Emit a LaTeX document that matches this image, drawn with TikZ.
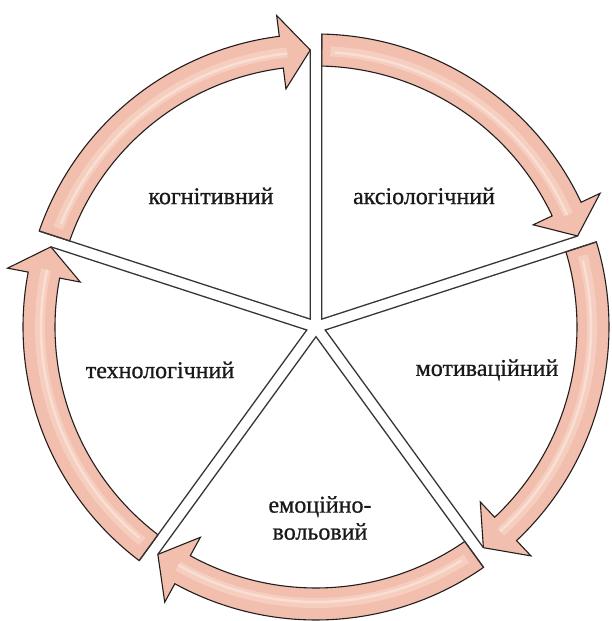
\documentclass[tikz,border=0pt]{standalone}
\usepackage{fontspec}
\setmainfont{Liberation Serif}
\newfontfamily\lblfont{Liberation Serif}[FakeBold=0.8]
\definecolor{ringfill}{RGB}{242,190,173}
\definecolor{ringlight}{RGB}{246,206,192}
\definecolor{ringhi}{RGB}{249,222,212}
\definecolor{edge}{RGB}{35,30,30}
\begin{document}
\begin{tikzpicture}[x=1pt,y=1pt,
  ringarrow/.style={fill=ringfill, draw=edge, line width=1.1pt, line join=miter},
  spokeline/.style={draw=edge!90, line width=1.3pt, line join=miter},
  lbl/.style={font=\lblfont\fontsize{24}{27}\selectfont, text=black!90, inner sep=0pt, align=center}]
\useasboundingbox (0,0) rectangle (611,621);
\coordinate (C) at (316,294);
\begin{scope}[shift={(C)}]
\foreach \a in {162,90,18,-54,-126}{
  \pgfmathsetmacro\b{\a-72}
  \path[ringarrow] ({\a-1.115}:293) arc[start angle={\a-1.115}, end angle={\b+7.2}, radius=293]
    -- ({\b+7.2}:314) -- ({\b+1.18}:277) -- ({\b+7.2}:240) -- ({\b+7.2}:261)
    arc[start angle={\b+7.2}, end angle={\a-1.25}, radius=261] -- cycle;
  \draw[ringlight, line width=10pt] ({\a-3}:276) arc[start angle={\a-3}, end angle={\b+6}, radius=276];
  \draw[ringhi, line width=2.5pt] ({\a-4}:275) arc[start angle={\a-4}, end angle={\b+6}, radius=275];
  \draw[spokeline] ({\a-1.115}:293) -- ({\a-36}:9.7) -- ({\b+1.18}:277);
}
\end{scope}
\node[lbl] (kog) at (211,425) {когнітивний};
\node[lbl] (aks) at (424,425) {аксіологічний};
\node[lbl] (teh) at (160,251) {технологічний};
\node[lbl] (mot) at (487,251) {мотиваційний};
\node[lbl] (emo) at (320,103) {емоційно-\\вольовий};
\end{tikzpicture}
\end{document}
